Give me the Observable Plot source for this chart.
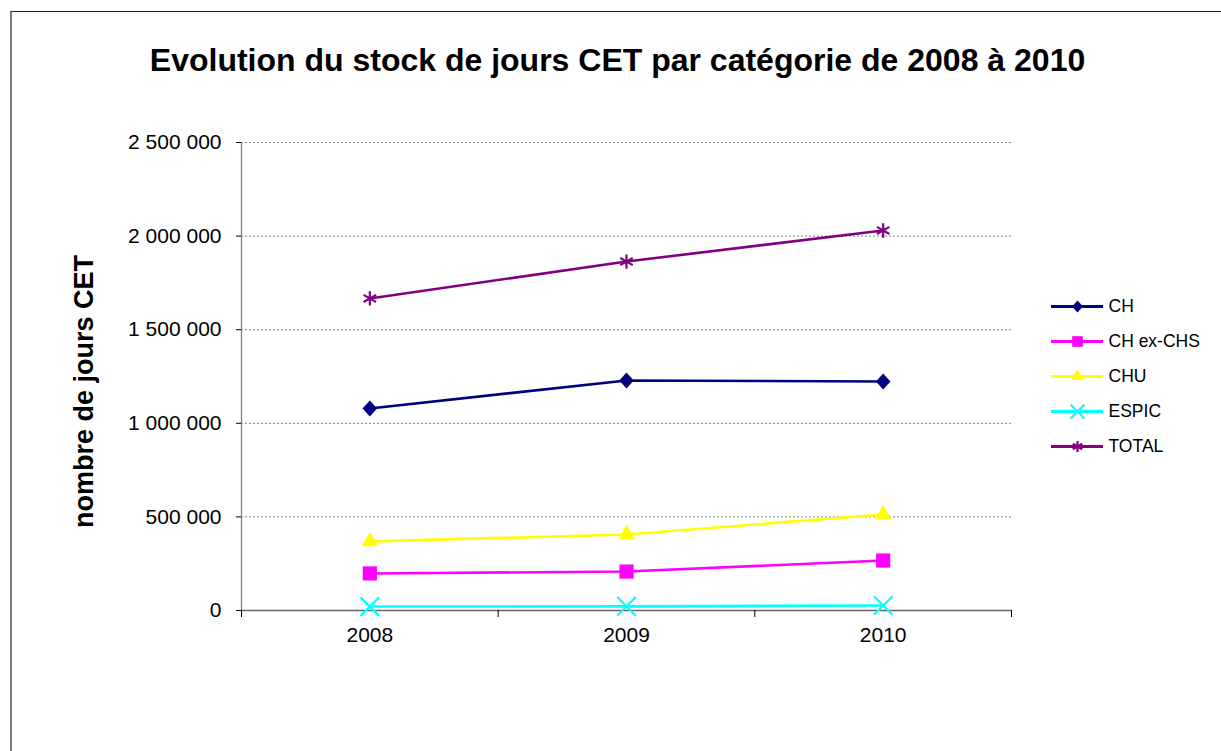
<!DOCTYPE html>
<html>
<head>
<meta charset="utf-8">
<script src="https://cdn.jsdelivr.net/npm/d3@7"></script>
<script src="https://cdn.jsdelivr.net/npm/@observablehq/plot@0.6"></script>
<style>
  html, body { margin: 0; padding: 0; background: #fff; overflow: hidden; }
  #wrap { position: relative; width: 1221px; height: 751px; overflow: hidden; font-family: "Liberation Sans", Arial, sans-serif; }
  #border { position: absolute; left: 10px; top: 11px; width: 1300px; height: 900px; border-top: 1px solid #222; border-left: 2px solid #7a7a7a; box-sizing: border-box; }
  #main { position: absolute; left: 0; top: 0; }
  #legend { position: absolute; left: 1040px; top: 286px; }
</style>
</head>
<body>
<div id="wrap">
  <div id="border"></div>
  <div id="main"></div>
  <div id="legend"></div>
</div>
<script>
const years = [2008, 2009, 2010];
const seriesNames = ["CH", "CH ex-CHS", "CHU", "ESPIC", "TOTAL"];
const ch      = [1079000, 1229000, 1223000];
const chExChs = [198000, 208000, 267000];
const chu     = [369000, 406000, 513000];
const espic   = [21000, 22000, 27000];
const total   = [1667000, 1864000, 2030000];
const yTicks  = [0, 500000, 1000000, 1500000, 2000000, 2500000];
const seriesColors  = ["#000080", "#FF00FF", "#FFFF00", "#00FFFF", "#800080"];
const seriesSymbols = ["diamond", "square", "triangle", "times", "asterisk"];
const filledSeries  = ["CH", "CH ex-CHS", "CHU"];
const titleText = "Evolution du stock de jours CET par catégorie de 2008 à 2010";
const yLabelText = "nombre de jours CET";

const seriesValues = [ch, chExChs, chu, espic, total];
const data = [];
seriesNames.forEach((name, i) => {
  years.forEach((yr, j) => data.push({series: name, year: yr, value: seriesValues[i][j]}));
});

// Excel-style rhombus (nearly square, rotated 45°)
const rhombus = {
  draw(ctx, size) {
    const a = Math.sqrt(size / 2), b = a * 1.1;
    ctx.moveTo(0, -b); ctx.lineTo(a, 0); ctx.lineTo(0, b); ctx.lineTo(-a, 0); ctx.closePath();
  }
};
const symbolRange = seriesSymbols.map(s => s === "diamond" ? rhombus : s);

const fmt = d => d3.format(",")(d).replace(/,/g, " ");
const sizeR = {"CH": 5.8, "CH ex-CHS": 8, "CHU": 6.2, "ESPIC": 8.5, "TOTAL": 6.8};
const font = '"Liberation Sans", Arial, sans-serif';

function seriesDots(rows, xOpt, yOpt, scale) {
  return seriesNames.map(name => {
    const sub = rows.filter(d => (d.series ?? d) === name);
    const filled = filledSeries.includes(name);
    const opts = {x: xOpt, y: yOpt, symbol: () => name, r: sizeR[name] * scale};
    if (filled) { opts.fill = () => name; } else { opts.stroke = () => name; opts.strokeWidth = 2.2; opts.fill = "none"; }
    return Plot.dot(sub, opts);
  });
}

const main = Plot.plot({
  width: 1221,
  height: 751,
  marginLeft: 241,
  marginRight: 210,
  marginTop: 142,
  marginBottom: 141,
  style: {fontFamily: font, fontSize: "21px", color: "#000", background: "transparent", overflow: "visible"},
  x: {type: "linear", domain: [2007.5, 2010.5], axis: null},
  y: {domain: [0, 2500000], axis: null},
  color: {domain: seriesNames, range: seriesColors},
  symbol: {domain: seriesNames, range: symbolRange},
  marks: [
    Plot.ruleY(yTicks.slice(1), {stroke: "#808080", strokeDasharray: "2,2", strokeWidth: 1}),
    Plot.ruleX([2007.5], {stroke: "#808080", strokeWidth: 1.3}),
    Plot.ruleY([0], {stroke: "#666", strokeWidth: 1.3}),
    Plot.axisY({ticks: yTicks, tickSize: 5, tickPadding: 15, tickFormat: fmt, fontSize: 21, label: null}),
    Plot.axisX({ticks: [2007.5, 2008.5, 2009.5, 2010.5], tickSize: 7, tickFormat: () => "", label: null}),
    Plot.axisX({ticks: years, tickSize: 0, tickPadding: 17, tickFormat: d => String(d), fontSize: 21, label: null}),
    Plot.line(data, {x: "year", y: "value", z: "series", stroke: "series", strokeWidth: 2.6}),
    ...seriesDots(data, "year", "value", 1),
    Plot.text([titleText], {frameAnchor: "top", lineAnchor: "middle", dx: -9, dy: -82, fontSize: 32, fontWeight: "bold", fill: "#000"}),
    Plot.text([yLabelText], {frameAnchor: "left", textAnchor: "middle", lineAnchor: "middle", rotate: -90, dx: -157, dy: 15, fontSize: 27, fontWeight: "bold", fill: "#000"})
  ]
});
document.getElementById("main").appendChild(main);

const legend = Plot.plot({
  width: 181,
  height: 180,
  margin: 0,
  style: {fontFamily: font, fontSize: "17.5px", color: "#000", background: "transparent", overflow: "visible"},
  x: {domain: [0, 1], range: [11, 63], axis: null},
  y: {type: "point", domain: seriesNames, range: [18, 161], padding: 0, axis: null},
  color: {domain: seriesNames, range: seriesColors},
  symbol: {domain: seriesNames, range: symbolRange},
  marks: [
    Plot.ruleY(seriesNames, {y: d => d, x1: 0, x2: 1, stroke: d => d, strokeWidth: 2.8}),
    ...seriesDots(seriesNames, () => 0.5, d => d, 0.75),
    Plot.text(seriesNames, {x: 1, y: d => d, text: d => d, dx: 5, textAnchor: "start", fontSize: 17.5, fill: "#000"})
  ]
});
document.getElementById("legend").appendChild(legend);
</script>
</body>
</html>
